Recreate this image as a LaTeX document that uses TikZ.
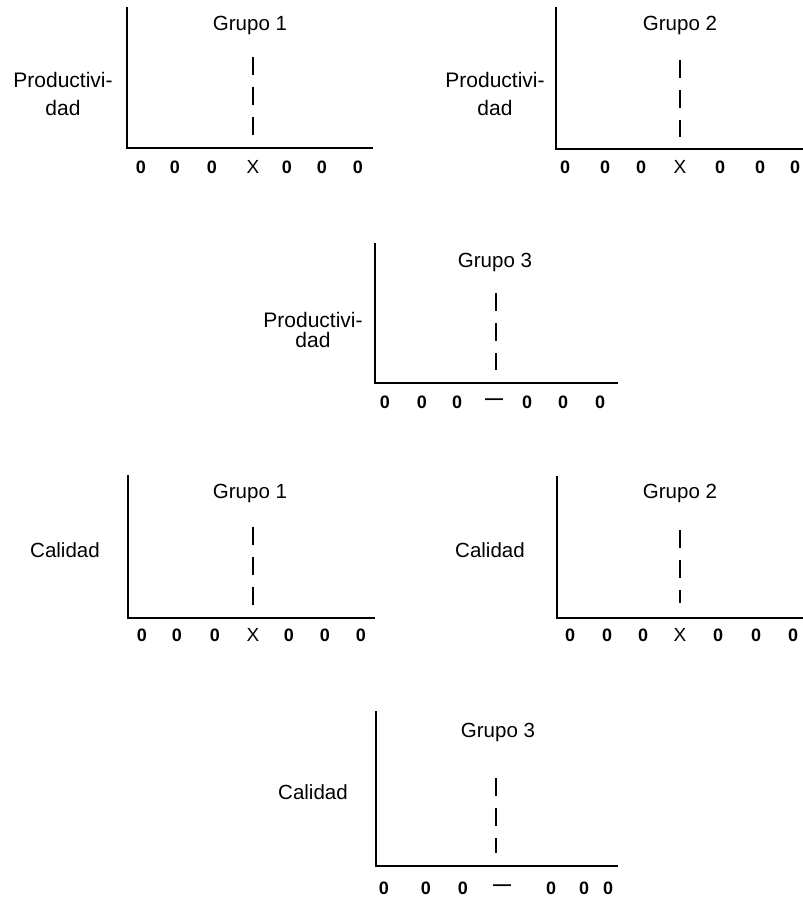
\documentclass[tikz,border=0pt]{standalone}
\usepackage{fontspec}
\setmainfont{Liberation Sans}
\begin{document}
\begin{tikzpicture}[x=1pt,y=-1pt,
  axis/.style={line width=2.2pt},
  dashline/.style={line width=2.2pt, dash pattern=on 18pt off 12pt},
  title/.style={font=\fontsize{20.5}{24}\selectfont, inner sep=0pt},
  ylab/.style={font=\fontsize{21}{28}\selectfont, align=center, inner sep=0pt},
  ylabb/.style={font=\fontsize{21}{20}\selectfont, align=center, inner sep=0pt},
  ticklab/.style={font=\fontsize{18}{20}\selectfont\bfseries, inner sep=0pt},
  xlab/.style={font=\fontsize{19}{20}\selectfont, inner sep=0pt}]
\useasboundingbox (0,0) rectangle (803,905);

% ---------- Panel 1: Productividad, Grupo 1 ----------
\coordinate (p1top) at (127,7);
\coordinate (p1o) at (127,148);
\coordinate (p1end) at (373,148);
\draw[axis] (p1top) -- (p1o) -- (p1end);
\node[title] (p1t) at (250,25) {Grupo 1};
\node[ylab] (p1y) at (63,94) {Productivi-\\dad};
\coordinate (p1a) at (253,57);
\coordinate (p1b) at (253,137);
\draw[dashline] (p1a) -- (p1b);
\foreach \x [count=\i] in {141,175,212}
  \node[ticklab] (p1d\i) at (\x,167) {0};
\node[xlab] (p1x) at (253,167) {X};
\foreach \x [count=\i from 5] in {287,322,358}
  \node[ticklab] (p1d\i) at (\x,167) {0};

% ---------- Panel 2: Productividad, Grupo 2 ----------
\coordinate (p2top) at (556,7);
\coordinate (p2o) at (556,149);
\coordinate (p2end) at (803,149);
\draw[axis] (p2top) -- (p2o) -- (p2end);
\node[title] (p2t) at (680,25) {Grupo 2};
\node[ylab] (p2y) at (495,94) {Productivi-\\dad};
\coordinate (p2a) at (680,60);
\coordinate (p2b) at (680,137);
\draw[dashline] (p2a) -- (p2b);
\foreach \x [count=\i] in {565,605,641}
  \node[ticklab] (p2d\i) at (\x,167) {0};
\node[xlab] (p2x) at (680,167) {X};
\foreach \x [count=\i from 5] in {720,760,795}
  \node[ticklab] (p2d\i) at (\x,167) {0};

% ---------- Panel 3: Productividad, Grupo 3 ----------
\coordinate (p3top) at (375,243);
\coordinate (p3o) at (375,383);
\coordinate (p3end) at (618,383);
\draw[axis] (p3top) -- (p3o) -- (p3end);
\node[title] (p3t) at (495,262) {Grupo 3};
\node[ylabb] (p3y) at (313,330) {Productivi-\\dad};
\coordinate (p3a) at (496,293);
\coordinate (p3b) at (496,370);
\draw[dashline] (p3a) -- (p3b);
\foreach \x/\t [count=\i] in {385/0,422/0,457/0,494/---,527/0,563/0,600/0}
  \node[ticklab] (p3d\i) at (\x,402) {\t};

% ---------- Panel 4: Calidad, Grupo 1 ----------
\coordinate (p4top) at (128,475);
\coordinate (p4o) at (128,618);
\coordinate (p4end) at (375,618);
\draw[axis] (p4top) -- (p4o) -- (p4end);
\node[title] (p4t) at (250,493) {Grupo 1};
\node[title] (p4y) at (65,550) {Calidad};
\coordinate (p4a) at (253,527);
\coordinate (p4b) at (253,605);
\draw[dashline] (p4a) -- (p4b);
\foreach \x [count=\i] in {142,177,215}
  \node[ticklab] (p4d\i) at (\x,635) {0};
\node[xlab] (p4x) at (253,635) {X};
\foreach \x [count=\i from 5] in {289,325,361}
  \node[ticklab] (p4d\i) at (\x,635) {0};

% ---------- Panel 5: Calidad, Grupo 2 ----------
\coordinate (p5top) at (557,476);
\coordinate (p5o) at (557,618);
\coordinate (p5end) at (803,618);
\draw[axis] (p5top) -- (p5o) -- (p5end);
\node[title] (p5t) at (680,493) {Grupo 2};
\node[title] (p5y) at (490,550) {Calidad};
\coordinate (p5a) at (680,530);
\coordinate (p5b) at (680,603);
\draw[dashline] (p5a) -- (p5b);
\foreach \x [count=\i] in {570,607,643}
  \node[ticklab] (p5d\i) at (\x,635) {0};
\node[xlab] (p5x) at (680,635) {X};
\foreach \x [count=\i from 5] in {718,756,793}
  \node[ticklab] (p5d\i) at (\x,635) {0};

% ---------- Panel 6: Calidad, Grupo 3 ----------
\coordinate (p6top) at (376,711);
\coordinate (p6o) at (376,866);
\coordinate (p6end) at (618,866);
\draw[axis] (p6top) -- (p6o) -- (p6end);
\node[title] (p6t) at (498,732) {Grupo 3};
\node[title] (p6y) at (313,792) {Calidad};
\coordinate (p6a) at (496,778);
\coordinate (p6b) at (496,853);
\draw[dashline] (p6a) -- (p6b);
\foreach \x/\t [count=\i] in {384/0,426/0,463/0,502/---,551/0,584/0,608/0}
  \node[ticklab] (p6d\i) at (\x,888) {\t};
\end{tikzpicture}
\end{document}
